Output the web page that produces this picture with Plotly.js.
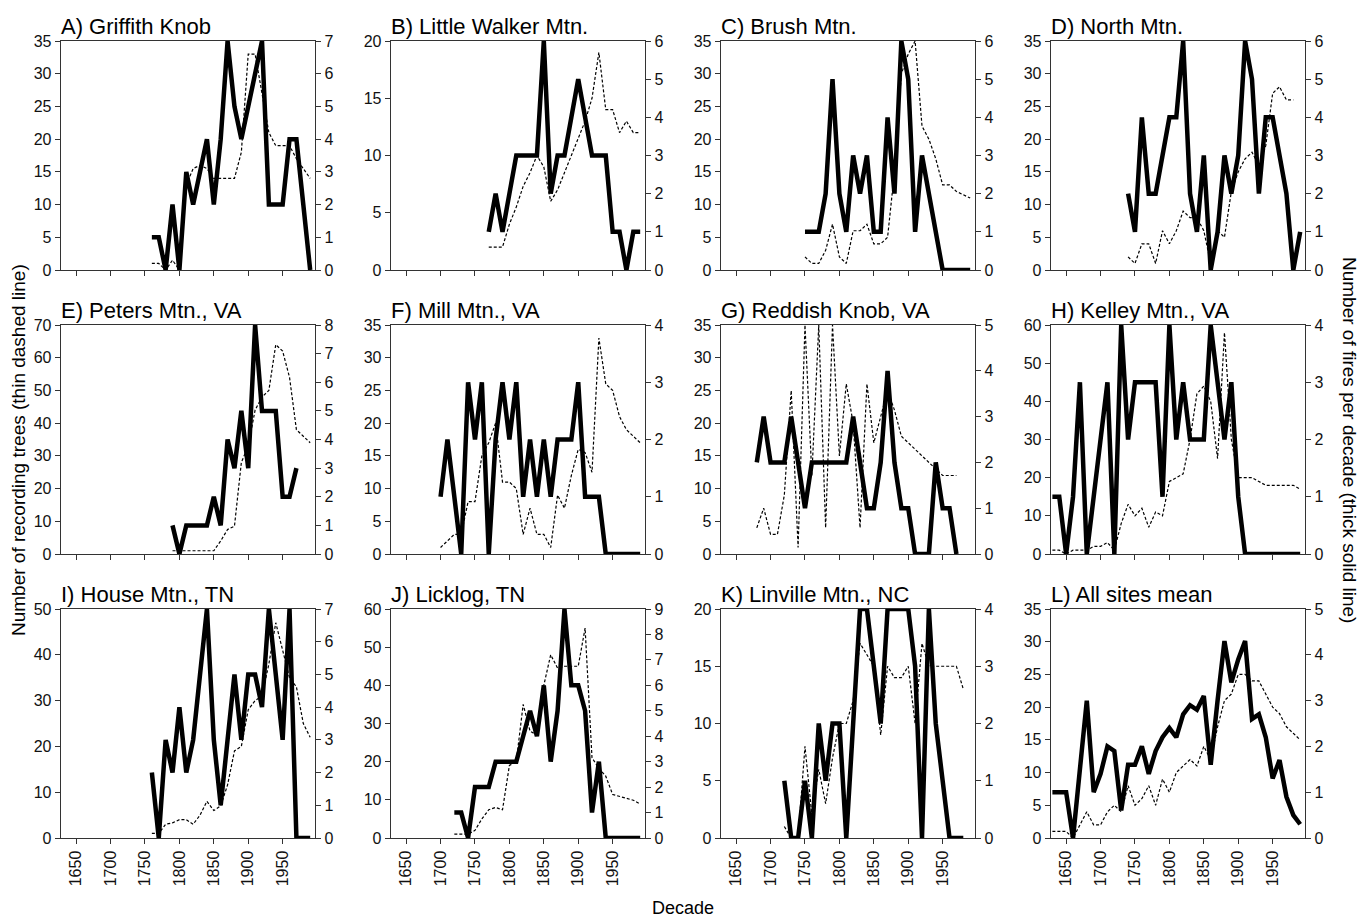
<!DOCTYPE html>
<html><head><meta charset="utf-8">
<script src="https://cdn.plot.ly/plotly-3.0.1.min.js"></script>
<style>html,body{margin:0;padding:0;background:#fff}#chart{width:1364px;height:923px}</style>
</head><body><div id="chart"></div>
<script>
// Decades (x categories)
const decades = [1630,1640,1650,1660,1670,1680,1690,1700,1710,1720,1730,1740,1750,1760,1770,1780,1790,1800,1810,1820,1830,1840,1850,1860,1870,1880,1890,1900,1910,1920,1930,1940,1950,1960,1970,1980,1990];
const xTicks = [1650,1700,1750,1800,1850,1900,1950];

// Panel titles
const titles = ["A) Griffith Knob","B) Little Walker Mtn.","C) Brush Mtn.","D) North Mtn.",
  "E) Peters Mtn., VA","F) Mill Mtn., VA","G) Reddish Knob, VA","H) Kelley Mtn., VA",
  "I) House Mtn., TN","J) Licklog, TN","K) Linville Mtn., NC","L) All sites mean"];

// First decade of each record
const startA = 1760, startB = 1770, startC = 1750, startD = 1740, startE = 1790, startF = 1700,
      startG = 1680, startH = 1630, startI = 1760, startJ = 1720, startK = 1720, startL = 1630;

// Number of recording trees (thin dashed line, left axis)
const treesA = [1,1,0,1.5,0,13,15.5,16,15.5,14,14,14,14,18,33,33,27,21,19,19,19,17,15.5,14];
const treesB = [2,2,2,4,5.5,7.3,8.5,10,9,6,7,8.5,10,11.5,13,15,19,14,14,12,13,12,12];
const treesC = [2,1,1,3,7,2,1,6,6,7,4,4,5,15,30,33,35,22,20,17,13,13,12,11.5,11];
const treesD = [2,1,4,4,1,6,4,6,9,8,8,6,1,6,5,12,15,17,18,16,19,27,28,26,26];
const treesE = [1,1,1,1,1,1,1,4,7.5,8.5,28,33,44,48,50,64,62,54,38,36,34];
const treesF = [1,2,3,3,8,8,15,17,20,11,11,10,3,7,3,3,1,9,7,12,16,15.5,12.5,33,26,25,21,19,18,17];
const treesG = [4,7,3,3,9,25,1,35,12,35,4,35,15,26,20,4,26,17,21,25,22,18,17,16,15,14,13,12,12,12];
const treesH = [1,1,0,1,1,1,2,2,3,1,8,13,10,12,7,11,10,19,20,21,30,42,44,40,25,58,30,20,20,20,19,18,18,18,18,18,17];
const treesI = [1,1,3,3.3,4,4,3,5,8,6,7,11.6,19,20,28,30,31,38,47,41,35,33,25,22];
const treesJ = [1,1,1,2,5,7.4,8,7.4,19,20,35,28,27,40,48,44.5,45,45,45,55,21,18.3,16.2,11.4,10.9,10.5,9.9,8.9];
const treesK = [1,0,0,8,2,6,3,7,10,10,12,17,16,15,9,15,14,14,15,10,17,15,15,15,15,15,13];
const treesL = [1,1,1,0,2,4,2,2,4,5,4,8,5,6,8,5,9,7,10,11,12,11,14,12,17,21,22,25,25,24,24,22,20,19,17,16,15];

// Number of fires per decade (thick solid line, right axis)
const firesA = [1,1,0,2,0,3,2,3,4,2,4,7,5,4,5,6,7,2,2,2,4,4,2,0];
const firesB = [1,2,1,2,3,3,3,3,6,2,3,3,4,5,4,3,3,3,1,1,0,1,1];
const firesC = [1,1,1,2,5,2,1,3,2,3,1,1,4,2,6,5,1,3,2,1,0,0,0,0,0];
const firesD = [2,1,4,2,2,3,4,4,6,2,1,3,0,1,3,2,3,6,5,2,4,4,3,2,0,1];
const firesE = [1,0,1,1,1,1,2,1,4,3,5,3,8,5,5,5,2,2,3];
const firesF = [1,2,1,0,3,2,3,0,2,3,2,3,1,2,1,2,1,2,2,2,3,1,1,1,0,0,0,0,0,0];
const firesG = [2,3,2,2,2,3,2,1,2,2,2,2,2,2,3,2,1,1,2,4,2,1,1,0,0,0,2,1,1,0];
const firesH = [1,1,0,1,3,0,1,2,3,0,4,2,3,3,3,3,1,4,2,3,2,2,2,4,3,2,3,1,0,0,0,0,0,0,0,0,0];
const firesI = [2,0,3,2,4,2,3,5,7,3,1,3,5,3,5,5,4,7,5,3,7,0,0,0];
const firesJ = [1,1,0,2,2,2,3,3,3,3,4,5,4,6,3,5,9,6,6,5,1,3,0,0,0,0,0,0];
const firesK = [1,0,0,1,0,2,1,2,2,0,2,4,4,3,2,4,4,4,4,3,0,4,2,1,0,0,0];
const firesL = [1,1,1,0,1.5,3,1,1.4,2,1.9,0.6,1.6,1.6,2,1.4,1.9,2.2,2.4,2.2,2.7,2.9,2.8,3.1,1.6,3,4.3,3.4,3.9,4.3,2.6,2.7,2.2,1.3,1.7,0.9,0.5,0.3];

// Axis ranges: left (trees) max and step, right (fires) max
const leftMax  = [35,20,35,35,70,35,35,60,50,60,20,35];
const leftStep = [5,5,5,5,10,5,5,10,10,10,5,5];
const rightMax = [7,6,6,6,8,4,5,4,7,9,4,5];

const starts = [startA,startB,startC,startD,startE,startF,startG,startH,startI,startJ,startK,startL];
const trees = [treesA,treesB,treesC,treesD,treesE,treesF,treesG,treesH,treesI,treesJ,treesK,treesL];
const fires = [firesA,firesB,firesC,firesD,firesE,firesF,firesG,firesH,firesI,firesJ,firesK,firesL];

const W = 1364, H = 923;
const colLeft = [61,391,721,1051], plotW = 254;
const rowTop = [41,325,609], plotH = 229;

const FAM = "Liberation Sans, Arial, sans-serif";
const axFont = {family:FAM, size:16, color:"#111"};
const lineCol = "#333";
const traces = [], annotations = [];
const layout = {width:W, height:H, margin:{l:0,r:0,t:0,b:0}, showlegend:false,
  paper_bgcolor:"#fff", plot_bgcolor:"#fff", font:axFont};

function nm(p, n){ return n===1 ? p : p+n; }

for (let i=0;i<12;i++){
  const row = Math.floor(i/4), col = i%4;
  const xn = i+1, yl = 2*i+1, yr = 2*i+2;
  const x0 = colLeft[col]/W, x1 = (colLeft[col]+plotW)/W;
  const y1 = 1 - rowTop[row]/H, y0 = 1 - (rowTop[row]+plotH)/H;
  const i0 = decades.indexOf(starts[i]);
  const xt = decades.slice(i0, i0+trees[i].length);
  const xf = decades.slice(i0, i0+fires[i].length);
  layout[nm('xaxis',xn)] = {domain:[x0,x1], anchor:nm('y',yl), range:[1628,1997],
    tickvals:xTicks, ticktext:xTicks.map(String), tickangle:-90, showticklabels: row===2,
    ticks:"outside", ticklen:5, tickwidth:1, tickcolor:lineCol, showline:true, mirror:true,
    linecolor:lineCol, linewidth:1.3, showgrid:false, zeroline:false, tickfont:axFont, fixedrange:true};
  layout[nm('yaxis',yl)] = {domain:[y0,y1], anchor:nm('x',xn), range:[0,leftMax[i]], dtick:leftStep[i],
    ticks:"outside", ticklen:5, tickwidth:1, tickcolor:lineCol, showline:true, linecolor:lineCol, linewidth:1.3,
    showgrid:false, zeroline:false, tickfont:axFont, side:"left", fixedrange:true};
  layout[nm('yaxis',yr)] = {overlaying:nm('y',yl), anchor:nm('x',xn), range:[0,rightMax[i]], dtick:1,
    ticks:"outside", ticklen:5, tickwidth:1, tickcolor:lineCol, showline:true, linecolor:lineCol, linewidth:1.3,
    showgrid:false, zeroline:false, tickfont:axFont, side:"right", fixedrange:true};
  traces.push({type:"scatter", mode:"lines", x:xt, y:trees[i], xaxis:nm('x',xn), yaxis:nm('y',yl),
    line:{color:"#000", width:1.2, dash:"3px,2px"}, hoverinfo:"skip"});
  traces.push({type:"scatter", mode:"lines", x:xf, y:fires[i], xaxis:nm('x',xn), yaxis:nm('y',yr),
    line:{color:"#000", width:4.5}, hoverinfo:"skip"});
  annotations.push({text:titles[i], xref:"paper", yref:"paper", x:x0, y:y1, xanchor:"left", yanchor:"bottom",
    yshift:0, xshift:-2, showarrow:false, font:{family:FAM, size:22, color:"#000"}});
}
annotations.push({text:"Number of recording trees (thin dashed line)", xref:"paper", yref:"paper",
  x:18/W, y:1-450/H, xanchor:"center", yanchor:"middle", textangle:-90, showarrow:false, font:{family:FAM, size:19, color:"#000"}});
annotations.push({text:"Number of fires per decade (thick solid line)", xref:"paper", yref:"paper",
  x:1350/W, y:1-440/H, xanchor:"center", yanchor:"middle", textangle:90, showarrow:false, font:{family:FAM, size:19, color:"#000"}});
annotations.push({text:"Decade", xref:"paper", yref:"paper", x:683/W, y:1-908/H, xanchor:"center", yanchor:"middle", showarrow:false,
  font:{family:FAM, size:18, color:"#000"}});
layout.annotations = annotations;

Plotly.newPlot("chart", traces, layout, {staticPlot:true, displayModeBar:false});
</script></body></html>
